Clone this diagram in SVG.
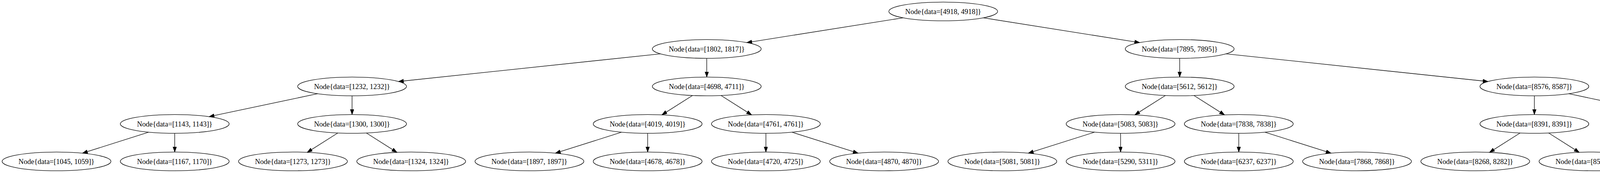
<svg xmlns="http://www.w3.org/2000/svg" width="4830" height="443" viewBox="0 0 4830 443">
<style>
.n ellipse{fill:none;stroke:#000;stroke-width:1.33}
.n text{font-family:"Liberation Serif","Times New Roman",serif;font-size:18.5px;text-anchor:middle;fill:#000}
#edges line{stroke:#000;stroke-width:1.33;marker-end:url(#arr)}
</style>
<defs>
<marker id="arr" markerUnits="userSpaceOnUse" markerWidth="14" markerHeight="10" refX="13.33" refY="4.67" orient="auto" viewBox="0 0 14 10">
<path d="M0,0 L13.33,4.67 L0,9.33 z" fill="#000" stroke="#000" stroke-width="1"/>
</marker>
</defs>
<rect width="4830" height="443" fill="#fff"/>
<g id="edges">
<line x1="2312.16" y1="45.59" x2="1911.84" y2="109.07"/>
<line x1="2517.18" y1="45.59" x2="2917.49" y2="109.07"/>
<line x1="1690.58" y1="137.89" x2="1020.08" y2="208.78"/>
<line x1="1809.33" y1="149.33" x2="1809.33" y2="197.33"/>
<line x1="3020" y1="149.33" x2="3020" y2="197.33"/>
<line x1="3138.75" y1="137.89" x2="3809.25" y2="208.78"/>
<line x1="813.33" y1="239.94" x2="535.33" y2="298.72"/>
<line x1="901.33" y1="245.33" x2="901.33" y2="293.33"/>
<line x1="1772.82" y1="244.49" x2="1694.51" y2="294.17"/>
<line x1="1845.84" y1="244.49" x2="1924.16" y2="294.17"/>
<line x1="2983.49" y1="244.49" x2="2905.18" y2="294.17"/>
<line x1="3056.51" y1="244.49" x2="3134.82" y2="294.17"/>
<line x1="3928" y1="245.33" x2="3928" y2="293.33"/>
<line x1="4016" y1="239.94" x2="4294" y2="298.72"/>
<line x1="380.84" y1="338.42" x2="211.16" y2="392.24"/>
<line x1="447.33" y1="341.33" x2="447.33" y2="389.33"/>
<line x1="864.82" y1="340.49" x2="786.51" y2="390.17"/>
<line x1="937.84" y1="340.49" x2="1016.16" y2="390.17"/>
<line x1="1591.51" y1="338.42" x2="1421.82" y2="392.24"/>
<line x1="1658" y1="341.33" x2="1658" y2="389.33"/>
<line x1="1960.67" y1="341.33" x2="1960.67" y2="389.33"/>
<line x1="2027.16" y1="338.42" x2="2196.84" y2="392.24"/>
<line x1="2802.18" y1="338.42" x2="2632.49" y2="392.24"/>
<line x1="2868.67" y1="341.33" x2="2868.67" y2="389.33"/>
<line x1="3171.33" y1="341.33" x2="3171.33" y2="389.33"/>
<line x1="3237.82" y1="338.42" x2="3407.51" y2="392.24"/>
<line x1="3891.49" y1="340.49" x2="3813.18" y2="390.17"/>
<line x1="3964.51" y1="340.49" x2="4042.82" y2="390.17"/>
<line x1="4382" y1="341.33" x2="4382" y2="389.33"/>
<line x1="4448.49" y1="338.42" x2="4618.16" y2="392.24"/>
</g>
<g id="n4918" class="n"><ellipse cx="2414.67" cy="29.33" rx="139.33" ry="24"/><text x="2414.67" y="36.4">Node{data=[4918, 4918]}</text></g>
<g id="n1802" class="n"><ellipse cx="1809.33" cy="125.33" rx="139.33" ry="24"/><text x="1809.33" y="132.4">Node{data=[1802, 1817]}</text></g>
<g id="n7895" class="n"><ellipse cx="3020" cy="125.33" rx="139.33" ry="24"/><text x="3020" y="132.4">Node{data=[7895, 7895]}</text></g>
<g id="n1232" class="n"><ellipse cx="901.33" cy="221.33" rx="139.33" ry="24"/><text x="901.33" y="228.4">Node{data=[1232, 1232]}</text></g>
<g id="n4698" class="n"><ellipse cx="1809.33" cy="221.33" rx="139.33" ry="24"/><text x="1809.33" y="228.4">Node{data=[4698, 4711]}</text></g>
<g id="n5612" class="n"><ellipse cx="3020" cy="221.33" rx="139.33" ry="24"/><text x="3020" y="228.4">Node{data=[5612, 5612]}</text></g>
<g id="n8576" class="n"><ellipse cx="3928" cy="221.33" rx="139.33" ry="24"/><text x="3928" y="228.4">Node{data=[8576, 8587]}</text></g>
<g id="n1143" class="n"><ellipse cx="447.33" cy="317.33" rx="139.33" ry="24"/><text x="447.33" y="324.4">Node{data=[1143, 1143]}</text></g>
<g id="n1300" class="n"><ellipse cx="901.33" cy="317.33" rx="139.33" ry="24"/><text x="901.33" y="324.4">Node{data=[1300, 1300]}</text></g>
<g id="n4019" class="n"><ellipse cx="1658" cy="317.33" rx="139.33" ry="24"/><text x="1658" y="324.4">Node{data=[4019, 4019]}</text></g>
<g id="n4761" class="n"><ellipse cx="1960.67" cy="317.33" rx="139.33" ry="24"/><text x="1960.67" y="324.4">Node{data=[4761, 4761]}</text></g>
<g id="n5083" class="n"><ellipse cx="2868.67" cy="317.33" rx="139.33" ry="24"/><text x="2868.67" y="324.4">Node{data=[5083, 5083]}</text></g>
<g id="n7838" class="n"><ellipse cx="3171.33" cy="317.33" rx="139.33" ry="24"/><text x="3171.33" y="324.4">Node{data=[7838, 7838]}</text></g>
<g id="n8391" class="n"><ellipse cx="3928" cy="317.33" rx="139.33" ry="24"/><text x="3928" y="324.4">Node{data=[8391, 8391]}</text></g>
<g id="n9193" class="n"><ellipse cx="4382" cy="317.33" rx="139.33" ry="24"/><text x="4382" y="324.4">Node{data=[9193, 9193]}</text></g>
<g id="n1045" class="n"><ellipse cx="144.67" cy="413.33" rx="139.33" ry="24"/><text x="144.67" y="420.4">Node{data=[1045, 1059]}</text></g>
<g id="n1167" class="n"><ellipse cx="447.33" cy="413.33" rx="139.33" ry="24"/><text x="447.33" y="420.4">Node{data=[1167, 1170]}</text></g>
<g id="n1273" class="n"><ellipse cx="750" cy="413.33" rx="139.33" ry="24"/><text x="750" y="420.4">Node{data=[1273, 1273]}</text></g>
<g id="n1324" class="n"><ellipse cx="1052.67" cy="413.33" rx="139.33" ry="24"/><text x="1052.67" y="420.4">Node{data=[1324, 1324]}</text></g>
<g id="n1897" class="n"><ellipse cx="1355.33" cy="413.33" rx="139.33" ry="24"/><text x="1355.33" y="420.4">Node{data=[1897, 1897]}</text></g>
<g id="n4678" class="n"><ellipse cx="1658" cy="413.33" rx="139.33" ry="24"/><text x="1658" y="420.4">Node{data=[4678, 4678]}</text></g>
<g id="n4720" class="n"><ellipse cx="1960.67" cy="413.33" rx="139.33" ry="24"/><text x="1960.67" y="420.4">Node{data=[4720, 4725]}</text></g>
<g id="n4870" class="n"><ellipse cx="2263.33" cy="413.33" rx="139.33" ry="24"/><text x="2263.33" y="420.4">Node{data=[4870, 4870]}</text></g>
<g id="n5081" class="n"><ellipse cx="2566" cy="413.33" rx="139.33" ry="24"/><text x="2566" y="420.4">Node{data=[5081, 5081]}</text></g>
<g id="n5290" class="n"><ellipse cx="2868.67" cy="413.33" rx="139.33" ry="24"/><text x="2868.67" y="420.4">Node{data=[5290, 5311]}</text></g>
<g id="n6237" class="n"><ellipse cx="3171.33" cy="413.33" rx="139.33" ry="24"/><text x="3171.33" y="420.4">Node{data=[6237, 6237]}</text></g>
<g id="n7868" class="n"><ellipse cx="3474" cy="413.33" rx="139.33" ry="24"/><text x="3474" y="420.4">Node{data=[7868, 7868]}</text></g>
<g id="n8268" class="n"><ellipse cx="3776.67" cy="413.33" rx="139.33" ry="24"/><text x="3776.67" y="420.4">Node{data=[8268, 8282]}</text></g>
<g id="n8512" class="n"><ellipse cx="4079.33" cy="413.33" rx="139.33" ry="24"/><text x="4079.33" y="420.4">Node{data=[8512, 8512]}</text></g>
<g id="n8983" class="n"><ellipse cx="4382" cy="413.33" rx="139.33" ry="24"/><text x="4382" y="420.4">Node{data=[8983, 8998]}</text></g>
<g id="n9574" class="n"><ellipse cx="4684.67" cy="413.33" rx="139.33" ry="24"/><text x="4684.67" y="420.4">Node{data=[9574, 9574]}</text></g>
</svg>
